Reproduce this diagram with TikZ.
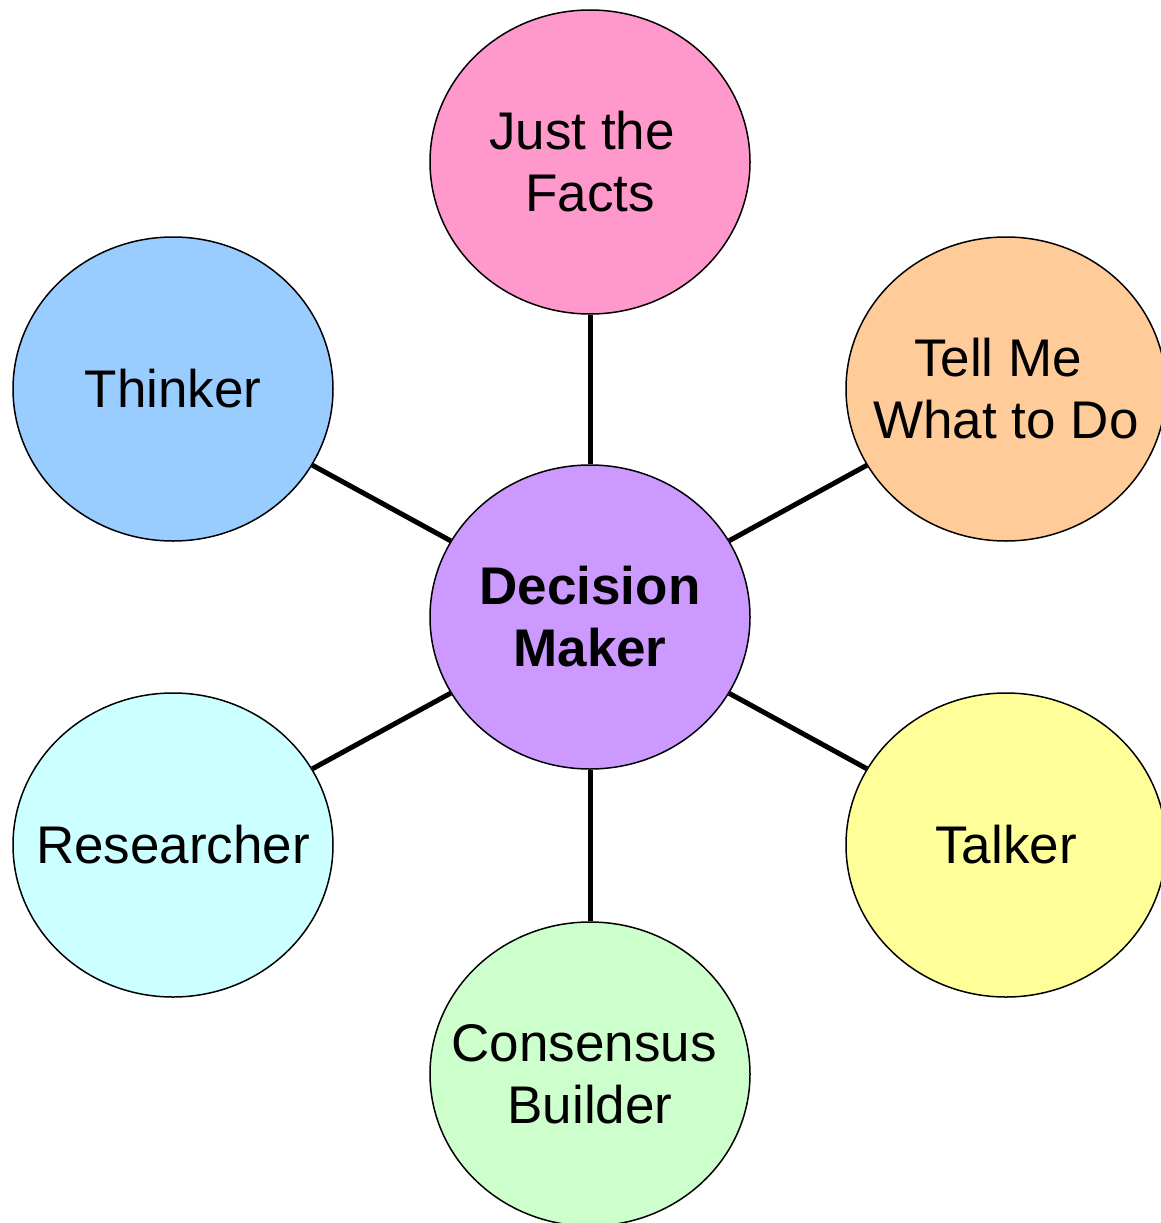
\documentclass[tikz,border=0pt]{standalone}
\usepackage{fontspec}
\setmainfont{Liberation Sans}
\usetikzlibrary{shapes.geometric}
\definecolor{cpink}{HTML}{FF99CC}
\definecolor{cblue}{HTML}{99CCFF}
\definecolor{corange}{HTML}{FFCC99}
\definecolor{cpurple}{HTML}{CC99FF}
\definecolor{ccyan}{HTML}{CCFFFF}
\definecolor{cyellow}{HTML}{FFFF99}
\definecolor{cgreen}{HTML}{CCFFCC}
\tikzset{
  bubble/.style={ellipse, draw=black, line width=1.5pt, minimum width=320pt, minimum height=304pt, inner xsep=-60pt, inner ysep=0pt, align=center, font=\fontsize{53}{62}\selectfont},
  link/.style={line width=5pt, draw=black}
}
\begin{document}
\begin{tikzpicture}[x=1pt,y=-1pt]
\useasboundingbox (0,0) rectangle (1161,1223);
\node[bubble, fill=cpurple, font=\fontsize{53}{62}\selectfont\bfseries] (dm) at (590,617) {Decision\\Maker};
\node[bubble, fill=cpink] (facts) at (590,162) {Just the\hspace*{16pt}\\Facts};
\node[bubble, fill=cblue] (think) at (173,389) {Thinker};
\node[bubble, fill=corange] (tell) at (1006,389) {Tell Me\hspace*{16pt}\\What to Do};
\node[bubble, fill=ccyan] (res) at (173,845) {Researcher};
\node[bubble, fill=cyellow] (talk) at (1006,845) {Talker};
\node[bubble, fill=cgreen] (cons) at (590,1074) {Consensus\hspace*{12pt}\\Builder};
\draw[link] (dm) -- (facts);
\draw[link] (dm) -- (think);
\draw[link] (dm) -- (tell);
\draw[link] (dm) -- (res);
\draw[link] (dm) -- (talk);
\draw[link] (dm) -- (cons);
\end{tikzpicture}
\end{document}
